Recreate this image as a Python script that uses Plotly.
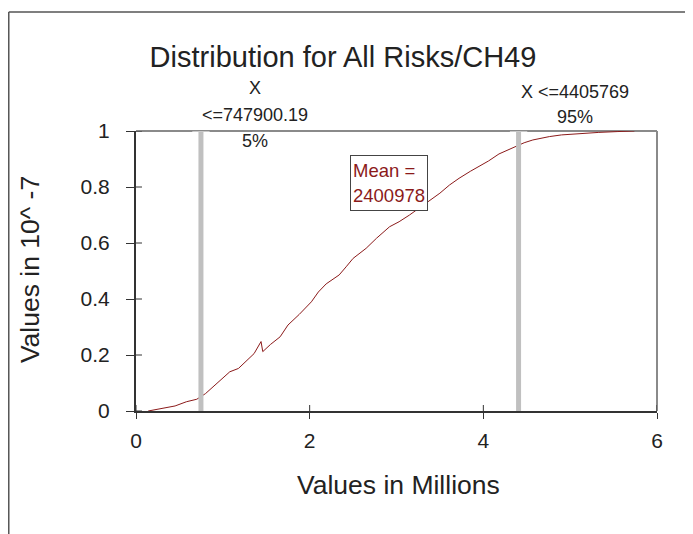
import plotly.graph_objects as go

# Cumulative distribution curve (x in millions, y in 10^-7)
curve_x = [0.14, 0.30, 0.45, 0.58, 0.70, 0.80, 0.89, 1.00, 1.08, 1.18, 1.29, 1.36, 1.44, 1.46,
           1.55, 1.66, 1.75, 1.88, 2.02, 2.10, 2.19, 2.34, 2.42, 2.50, 2.65, 2.77, 2.92, 3.03,
           3.15, 3.34, 3.50, 3.61, 3.72, 3.85, 3.95, 4.06, 4.18, 4.30, 4.38, 4.47, 4.57, 4.76,
           4.90, 5.07, 5.33, 5.55, 5.74]
curve_y = [0.000, 0.008, 0.018, 0.033, 0.042, 0.062, 0.087, 0.118, 0.140, 0.152, 0.185, 0.205, 0.248, 0.212,
           0.238, 0.265, 0.307, 0.345, 0.390, 0.425, 0.454, 0.486, 0.515, 0.545, 0.581, 0.617, 0.658, 0.676,
           0.700, 0.742, 0.778, 0.807, 0.831, 0.856, 0.873, 0.893, 0.918, 0.935, 0.944, 0.958, 0.968, 0.980,
           0.986, 0.990, 0.995, 0.998, 1.000]

percentile_x = [0.7479, 4.4058]
percentile_label = ["<=747900.19", "X <=4405769"]
percentile_pct = ["5%", "95%"]
mean_value = "2400978"

x_ticks = [0, 2, 4, 6]
y_ticks = [0, 0.2, 0.4, 0.6, 0.8, 1]
y_ticktext = ["0", "0.2", "0.4", "0.6", "0.8", "1"]

RED = "#8B1A1A"
TXT = "#222222"
FONT = "Liberation Sans, Arial, sans-serif"

fig = go.Figure()
fig.add_trace(go.Scatter(x=curve_x, y=curve_y, mode="lines",
                         line=dict(color=RED, width=1), showlegend=False, hoverinfo="skip"))

shapes = []
# plot frame top/right (grey)
shapes.append(dict(type="line", xref="paper", yref="paper", x0=0, x1=1, y0=1, y1=1,
                   line=dict(color="#8a8a8a", width=2), layer="below"))
shapes.append(dict(type="line", xref="paper", yref="paper", x0=1, x1=1, y0=0, y1=1,
                   line=dict(color="#8a8a8a", width=2), layer="below"))
for px in percentile_x:
    shapes.append(dict(type="line", xref="x", yref="y", x0=px, x1=px, y0=0, y1=1,
                       line=dict(color="#c0c0c0", width=5), layer="above"))
    shapes.append(dict(type="line", xref="x", yref="y", x0=px - 0.1, x1=px + 0.1, y0=1, y1=1,
                       line=dict(color="#c8c8c8", width=2), layer="above"))
# inner halves of the crossing tick marks
for xv in x_ticks:
    shapes.append(dict(type="line", xref="x", yref="y", x0=xv, x1=xv, y0=0, y1=0.0214,
                       line=dict(color="#333", width=1)))
for yv in y_ticks:
    shapes.append(dict(type="line", xref="x", yref="y", x0=0, x1=0.069, y0=yv, y1=yv,
                       line=dict(color="#333", width=1)))
# outer frame
shapes.append(dict(type="line", xref="paper", yref="paper", x0=-0.2442, x1=-0.2442, y0=-0.5, y1=1.425,
                   line=dict(color="#555555", width=1.5)))
shapes.append(dict(type="line", xref="paper", yref="paper", x0=-0.2442, x1=1.2, y0=1.425, y1=1.425,
                   line=dict(color="#555555", width=1.5)))


def label(x, y, text, xref="x", size=18, **kw):
    return dict(x=x, y=y, xref=xref, yref="paper", text=text, showarrow=False,
                xanchor="center", yanchor="middle",
                font=dict(size=size, color=TXT, family=FONT), **kw)


ann = []
# left percentile labels
ann.append(label(1.37, 1.154, "X"))
ann.append(label(1.37, 1.057, percentile_label[0]))
ann.append(label(1.37, 0.964, percentile_pct[0]))
# right percentile labels
ann.append(label(5.05, 1.139, percentile_label[1]))
ann.append(label(5.05, 1.05, percentile_pct[1]))
# mean box
ann.append(dict(x=2.468, y=0.914, xref="x", yref="y", xanchor="left", yanchor="top",
                text="Mean =<br>" + mean_value, showarrow=False, align="left", valign="middle",
                width=72, height=50,
                font=dict(size=18.5, color=RED, family=FONT),
                bordercolor="#444", borderwidth=1, borderpad=2, bgcolor="white"))
# axis titles
ann.append(label(-0.203, 0.504, "Values in 10^ -7", xref="paper", size=26.5, textangle=-90))
ann.append(label(0.504, -0.264, "Values in Millions", xref="paper", size=26.5))

fig.update_layout(
    width=693, height=534,
    margin=dict(l=128, r=44, t=123, b=131),
    paper_bgcolor="white", plot_bgcolor="white",
    title=dict(text="Distribution for All Risks/CH49", x=0.4834, xanchor="center", xref="container",
               y=0.908, yanchor="middle", yref="container",
               font=dict(size=29, color=TXT, family=FONT)),
    xaxis=dict(range=[0, 6], tickvals=x_ticks, ticktext=[str(v) for v in x_ticks],
               showgrid=False, zeroline=False, showline=True, linecolor="#333", linewidth=2,
               ticks="outside", ticklen=6, tickcolor="#333", tickwidth=1,
               ticklabelstandoff=4,
               tickfont=dict(size=21, color=TXT, family=FONT)),
    yaxis=dict(range=[0, 1], tickvals=y_ticks, ticktext=y_ticktext,
               showgrid=False, zeroline=False, showline=True, linecolor="#333", linewidth=2,
               ticks="outside", ticklen=8, tickcolor="#333", tickwidth=1,
               ticklabelstandoff=12,
               tickfont=dict(size=21, color=TXT, family=FONT)),
    shapes=shapes, annotations=ann,
)

fig.write_html("out.html")
